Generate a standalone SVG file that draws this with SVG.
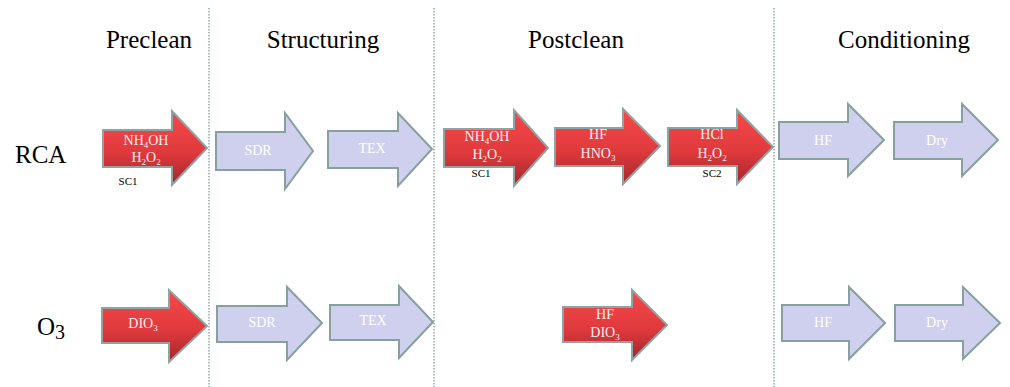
<svg xmlns="http://www.w3.org/2000/svg" width="1010" height="387" viewBox="0 0 1010 387">
<style>
text{font-family:"Liberation Serif","Times New Roman","DejaVu Serif",serif}
.hdr{font-size:25px;fill:#000;text-anchor:middle}
.row{font-size:25px;fill:#000}
.red{fill:url(#redg);stroke:#8fa3a2;stroke-width:2}
.lav{fill:#cfd0ee;stroke:#86a09d;stroke-width:2}
.t{font-size:14px;fill:#fbeeee;text-anchor:middle}
.tl{font-size:14px;fill:#ffffff;text-anchor:middle}
.sc{font-size:11px;fill:#000;text-anchor:middle}
.div{stroke:#93a8a8;stroke-width:1.5;stroke-dasharray:1.5 1.5;fill:none}
</style>
<defs>
<linearGradient id="redg" x1="0" y1="0" x2="0" y2="1">
<stop offset="0" stop-color="#f6494b"/>
<stop offset="0.55" stop-color="#e03a3d"/>
<stop offset="1" stop-color="#a4262b"/>
</linearGradient>
</defs>
<rect width="1010" height="387" fill="#fff"/>
<g id="dividers">
<line class="div" x1="209" y1="8" x2="209" y2="387"/>
<line class="div" x1="434" y1="8" x2="434" y2="387"/>
<line class="div" x1="774" y1="8" x2="774" y2="387"/>
</g>
<g id="headers">
<text class="hdr" x="149" y="48" font-family="Liberation Serif, serif">Preclean</text>
<text class="hdr" x="323" y="48" font-family="Liberation Serif, serif">Structuring</text>
<text class="hdr" x="576" y="48" font-family="Liberation Serif, serif">Postclean</text>
<text class="hdr" x="904" y="48" font-family="Liberation Serif, serif">Conditioning</text>
</g>
<g id="rowlabels">
<text class="row" x="15" y="163" font-family="Liberation Serif, serif">RCA</text>
<text class="row" x="37" y="335" font-family="Liberation Serif, serif">O<tspan font-size="20" dy="4">3</tspan></text>
</g>
<g id="connectors"></g>
<g id="rca-preclean">
<polygon class="red" points="103,130 172,130 172,111 207,148 172,185 172,167 103,167"/>
<text class="t" x="146" y="145">NH<tspan font-size="9" dy="3">4</tspan><tspan dy="-3">OH</tspan></text>
<text class="t" x="146" y="162">H<tspan font-size="9" dy="3">2</tspan><tspan dy="-3">O</tspan><tspan font-size="9" dy="3">2</tspan></text>
<text class="sc" x="128" y="185">SC1</text>
</g>
<g id="rca-sdr">
<polygon class="lav" points="216,132 285,132 285,113 313,151 285,189 285,170 216,170"/>
<text class="tl" x="258" y="155">SDR</text>
</g>
<g id="rca-tex">
<polygon class="lav" points="328,131 398,131 398,113 432,149 398,186 398,168 328,168"/>
<text class="tl" x="372" y="153">TEX</text>
</g>
<g id="rca-sc1">
<polygon class="red" points="444,129 514,129 514,110 548,148 514,186 514,167 444,167"/>
<text class="t" x="487" y="141">NH<tspan font-size="9" dy="3">4</tspan><tspan dy="-3">OH</tspan></text>
<text class="t" x="487" y="159">H<tspan font-size="9" dy="3">2</tspan><tspan dy="-3">O</tspan><tspan font-size="9" dy="3">2</tspan></text>
<text class="sc" x="481" y="177">SC1</text>
</g>
<g id="rca-hf-hno3">
<polygon class="red" points="555,128 623,128 623,109 660,146 623,184 623,166 555,166"/>
<text class="t" x="598" y="139">HF</text>
<text class="t" x="598" y="158">HNO<tspan font-size="9" dy="3">3</tspan></text>
</g>
<g id="rca-sc2">
<polygon class="red" points="668,128 737,128 737,110 773,147 737,184 737,166 668,166"/>
<text class="t" x="712" y="139">HCl</text>
<text class="t" x="712" y="158">H<tspan font-size="9" dy="3">2</tspan><tspan dy="-3">O</tspan><tspan font-size="9" dy="3">2</tspan></text>
<text class="sc" x="712" y="177">SC2</text>
</g>
<g id="rca-hf">
<polygon class="lav" points="779,122 848,122 848,104 884,140 848,176 848,159 779,159"/>
<text class="tl" x="823" y="145">HF</text>
</g>
<g id="rca-dry">
<polygon class="lav" points="894,122 962,122 962,104 998,140 962,176 962,159 894,159"/>
<text class="tl" x="937" y="145">Dry</text>
</g>
<g id="o3-dio3">
<polygon class="red" points="102,308 169,308 169,290 207,326 169,362 169,343 102,343"/>
<text class="t" x="143" y="328">DIO<tspan font-size="9" dy="3">3</tspan></text>
</g>
<g id="o3-sdr">
<polygon class="lav" points="217,306 287,306 287,287 322,323 287,360 287,342 217,342"/>
<text class="tl" x="262" y="327">SDR</text>
</g>
<g id="o3-tex">
<polygon class="lav" points="330,305 399,305 399,286 433,322 399,358 399,340 330,340"/>
<text class="tl" x="373" y="325">TEX</text>
</g>
<g id="o3-hf-dio3">
<polygon class="red" points="563,307 632,307 632,290 667,325 632,360 632,342 563,342"/>
<text class="t" x="605" y="319">HF</text>
<text class="t" x="605" y="337">DIO<tspan font-size="9" dy="3">3</tspan></text>
</g>
<g id="o3-hf">
<polygon class="lav" points="782,305 849,305 849,287 885,323 849,359 849,341 782,341"/>
<text class="tl" x="823" y="327">HF</text>
</g>
<g id="o3-dry">
<polygon class="lav" points="895,305 963,305 963,287 1000,323 963,359 963,341 895,341"/>
<text class="tl" x="937" y="327">Dry</text>
</g>
</svg>
